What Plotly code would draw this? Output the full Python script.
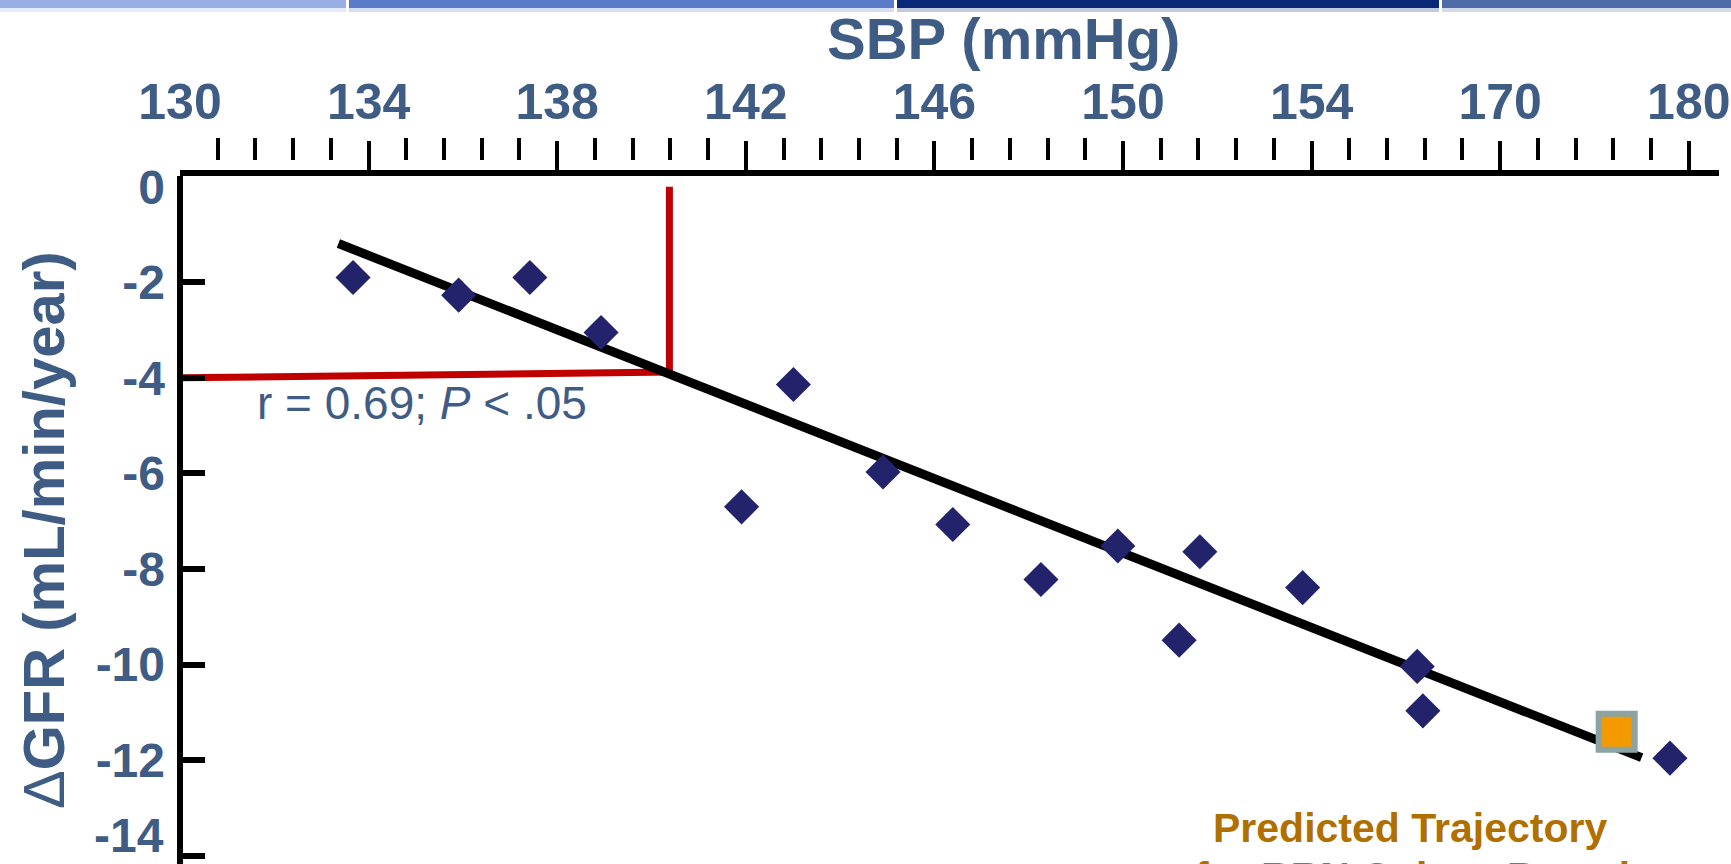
import plotly.graph_objects as go

# ---- data -------------------------------------------------------------
# SBP is drawn on an evenly spaced scale (positions 130..162, 4 per label),
# the last two labels jump to 170 and 180.
sbp_tick_pos = [130, 134, 138, 142, 146, 150, 154, 158, 162]
sbp_tick_text = ["130", "134", "138", "142", "146", "150", "154", "170", "180"]
gfr_tick_vals = [0, -2, -4, -6, -8, -10, -12, -14]

# observed cohorts: position on SBP scale, change in GFR (mL/min/year)
sbp_pos = [133.67, 135.91, 137.42, 138.93, 141.91, 143.01, 144.91, 146.39,
           148.26, 149.89, 151.19, 151.63, 153.81, 156.24, 156.36, 161.60]
dgfr = [-1.90, -2.27, -1.90, -3.05, -6.70, -4.14, -5.97, -7.07,
        -8.22, -7.52, -9.49, -7.64, -8.39, -10.04, -10.97, -11.96]

# regression line end points
fit_x = [133.36, 161.00]
fit_y = [-1.19, -11.95]

# red guide: from the y axis at -4 to the fit line, then up to 0
guide_x = [130.0, 140.38, 140.38]
guide_y = [-4.00, -3.88, 0.00]

# predicted trajectory point
pred_x = [160.47]
pred_y = [-11.41]

# ---- layout geometry ----------------------------------------------------
W, H = 1731, 864
ML, MR, MT, MB = 180, 12, 100, 0
PW, PH = W - ML - MR, H - MT - MB
PX_PER_X = 47.15      # pixels per SBP-scale unit
PX_PER_Y = 47.78      # pixels per GFR unit


def px_x(px):
    return (px - ML) / PW


def px_y(py):
    return (H - MB - py) / PH


Y_TOP = px_y(176)
X_RANGE = [130, 130 + PW / PX_PER_X]
Y_RANGE = [0.224 - 688 / PX_PER_Y, 0.224]

FONT = "Liberation Sans, Arial, sans-serif"
SLATE = "#3F5C85"
NAVY = "#23236B"

fig = go.Figure()

fig.add_trace(go.Scatter(
    x=guide_x, y=guide_y, mode="lines",
    line=dict(color="#C00000", width=7), hoverinfo="skip", showlegend=False))

fig.add_trace(go.Scatter(
    x=fit_x, y=fit_y, mode="lines",
    line=dict(color="black", width=9), hoverinfo="skip", showlegend=False))

fig.add_trace(go.Scatter(
    x=sbp_pos, y=dgfr, mode="markers",
    marker=dict(symbol="diamond", size=27, color=NAVY, line=dict(width=0)),
    showlegend=False))

fig.add_trace(go.Scatter(
    x=pred_x, y=pred_y, mode="markers",
    marker=dict(symbol="square", size=36, color="#F39A00",
                line=dict(color="#8BA3A3", width=6)),
    showlegend=False))

# empty traces so the overlay tick axes get drawn
for xa, ya in (("x2", "y"), ("x3", "y"), ("x", "y2")):
    fig.add_trace(go.Scatter(x=[None], y=[None], xaxis=xa, yaxis=ya,
                             mode="markers", hoverinfo="skip",
                             showlegend=False))

# minor tick positions (4 between each labelled position)
minor_ticks = [sbp_tick_pos[i] + 0.8 * k
               for i in range(len(sbp_tick_pos) - 1) for k in range(1, 5)]

# the lowest label sits at the page edge; it is drawn separately, lifted
y_label_vals = gfr_tick_vals[:-1]

fig.update_layout(
    width=W, height=H,
    margin=dict(l=ML, r=MR, t=MT, b=MB, pad=0),
    paper_bgcolor="white", plot_bgcolor="white",
    xaxis=dict(
        range=X_RANGE, side="top", anchor="y",
        showline=True, linewidth=6, linecolor="black",
        ticks="", tickvals=sbp_tick_pos, ticktext=sbp_tick_text,
        tickfont=dict(family=FONT, size=50, color=SLATE, weight="bold"),
        ticklabelstandoff=31, ticklabeloverflow="allow",
        showgrid=False, zeroline=False, automargin=False, fixedrange=True),
    xaxis2=dict(
        range=X_RANGE, overlaying="x", side="top", anchor="y",
        showline=False, ticks="outside", ticklen=34, tickwidth=4,
        tickcolor="black", tickvals=sbp_tick_pos[1:], showticklabels=False,
        showgrid=False, zeroline=False, automargin=False),
    xaxis3=dict(
        range=X_RANGE, overlaying="x", side="top", anchor="free",
        position=px_y(160),
        showline=False, ticks="outside", ticklen=22, tickwidth=4,
        tickcolor="black", tickvals=minor_ticks, showticklabels=False,
        showgrid=False, zeroline=False, automargin=False),
    yaxis=dict(
        range=Y_RANGE, domain=[0, Y_TOP], anchor="x",
        showline=False, ticks="", tickvals=y_label_vals,
        ticktext=[str(v) for v in y_label_vals],
        tickfont=dict(family=FONT, size=48, color=SLATE, weight="bold"),
        ticklabelstandoff=14, ticklabeloverflow="allow",
        showgrid=False, zeroline=False, automargin=False, fixedrange=True),
    yaxis2=dict(
        range=Y_RANGE, domain=[0, Y_TOP], overlaying="y", anchor="free",
        position=0, side="left",
        showline=True, linewidth=6, linecolor="black",
        ticks="inside", ticklen=22,
        tickwidth=6, tickcolor="black", tickvals=gfr_tick_vals[1:],
        showticklabels=False, showgrid=False, zeroline=False,
        automargin=False),
)

# axis titles and text
annotations = [
    dict(text="SBP (mmHg)", x=px_x(1003), y=px_y(38),
         font=dict(family=FONT, size=58, color=SLATE, weight="bold")),
    dict(text="Δ<b>GFR (mL/min/year)</b>", x=px_x(43), y=px_y(530),
         textangle=-90,
         font=dict(family=FONT, size=58, color=SLATE, weight="normal")),
    dict(text="r = 0.69; <i>P</i> < .05", x=px_x(422), y=px_y(403),
         font=dict(family=FONT, size=46, color=SLATE)),
    dict(text="Predicted Trajectory", x=px_x(1410), y=px_y(828),
         font=dict(family=FONT, size=41, color="#B07000", weight="bold")),
    dict(text="for RRN Cohort Based", x=px_x(1412), y=px_y(877),
         font=dict(family=FONT, size=41, color="#B07000", weight="bold")),
]
for a in annotations:
    fig.add_annotation(xref="paper", yref="paper", showarrow=False,
                       xanchor="center", yanchor="middle", **a)

fig.add_annotation(
    text=str(gfr_tick_vals[-1]), xref="paper", yref="y",
    x=px_x(166), y=gfr_tick_vals[-1], yshift=20,
    xanchor="right", yanchor="middle", showarrow=False,
    font=dict(family=FONT, size=48, color=SLATE, weight="bold"))

# slide header band
band = [(0, 346, "#9AAEE6"), (349, 894, "#5A7CC8"),
        (897, 1439, "#0A2878"), (1442, 1731, "#4E6BAA")]
for x0, x1, col in band:
    fig.add_shape(type="rect", xref="paper", yref="paper", layer="above",
                  x0=px_x(x0), x1=px_x(x1), y0=px_y(8), y1=px_y(0),
                  fillcolor=col, line=dict(width=0))
    fig.add_shape(type="rect", xref="paper", yref="paper", layer="above",
                  x0=px_x(x0), x1=px_x(x1), y0=px_y(12), y1=px_y(8),
                  fillcolor=col, opacity=0.25, line=dict(width=0))

fig.write_html("out.html")
